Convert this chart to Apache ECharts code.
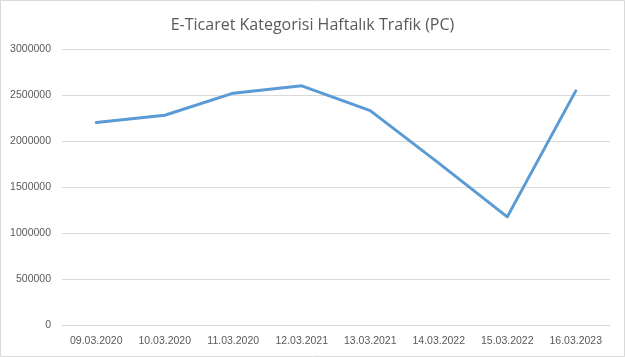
<!DOCTYPE html>
<html><head><meta charset="utf-8">
<script src="https://cdn.jsdelivr.net/npm/echarts@6/dist/echarts.min.js"></script>
<style>html,body{margin:0;padding:0;background:#fff}#c{width:625px;height:357px}</style>
</head><body><div id="c"></div>
<script>
const titleText = 'E-Ticaret Kategorisi Haftalık Trafik (PC)';
const categories = ['09.03.2020','10.03.2020','11.03.2020','12.03.2021','13.03.2021','14.03.2022','15.03.2022','16.03.2023'];
const trafficPC = [2200000, 2280000, 2520000, 2600000, 2330000, 1760000, 1175000, 2545000];
const chart = echarts.init(document.getElementById('c'));
chart.setOption({
  animation: false,
  backgroundColor: '#fff',
  title: { text: titleText, left: 'center', top: 12,
    textStyle: { fontFamily: 'Open Sans', fontSize: 16, fontWeight: 'normal', color: '#595959' } },
  graphic: [{ type: 'rect', shape: { x: 0.5, y: 0.5, width: 624, height: 356 },
    style: { fill: 'none', stroke: '#d9d9d9', lineWidth: 1 }, silent: true }],
  grid: { left: 62, right: 15, top: 49, bottom: 32 },
  xAxis: { type: 'category', data: categories, boundaryGap: true,
    axisLine: { lineStyle: { color: '#d9d9d9' } }, axisTick: { show: false },
    axisLabel: { color: '#595959', fontFamily: 'Liberation Sans', fontSize: 10.5, margin: 11, interval: 0 } },
  yAxis: { type: 'value', min: 0, max: 3000000, interval: 500000,
    axisLine: { show: false }, axisTick: { show: false },
    splitLine: { lineStyle: { color: '#d9d9d9' } },
    axisLabel: { color: '#595959', fontFamily: 'Liberation Sans', fontSize: 10.5, margin: 11,
      formatter: function (v) { return String(v); } } },
  series: [{ type: 'line', data: trafficPC, symbol: 'none',
    lineStyle: { color: '#5b9bd5', width: 3, cap: 'round', join: 'round' } }]
});
</script></body></html>
